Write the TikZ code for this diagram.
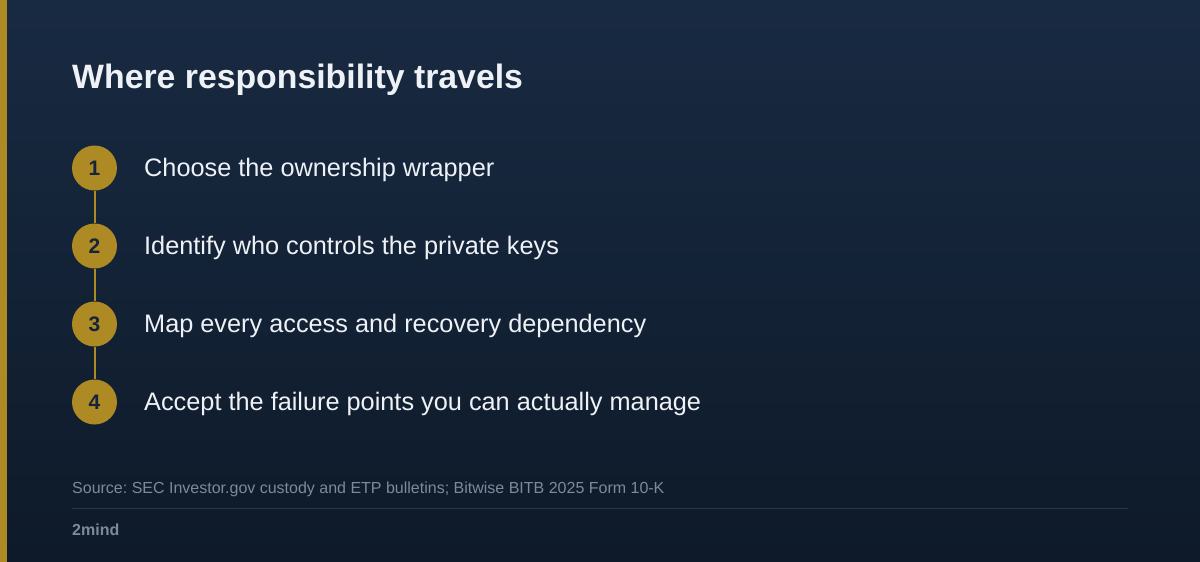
\documentclass[tikz,border=0pt]{standalone}
\usepackage{fontspec}
\setmainfont{Liberation Sans}
\frenchspacing
\definecolor{bgtop}{HTML}{182A42}
\definecolor{bgbot}{HTML}{0E1A29}
\definecolor{gold}{HTML}{AE8A24}
\definecolor{navy}{HTML}{17233A}
\definecolor{txt}{HTML}{EEF1F6}
\definecolor{muted}{HTML}{7D8A9B}
\definecolor{rule}{HTML}{263445}
\begin{document}
\begin{tikzpicture}[x=1pt,y=-1pt,
  stepnum/.style={circle,fill=gold,minimum size=45pt,inner sep=0pt,text=navy,font=\fontsize{21}{24}\selectfont\bfseries},
  steptext/.style={anchor=base west,inner sep=0pt,text=txt,font=\fontsize{25.3}{28}\selectfont},
  link/.style={draw=gold,line width=2pt}]
\shade[top color=bgtop,bottom color=bgbot] (0,0) rectangle (1200,562);
\useasboundingbox (0,0) rectangle (1200,562);
\fill[gold] (0,0) rectangle (7,562);
\node[anchor=base west,inner sep=0pt,text=txt,font=\fontsize{33.8}{38}\selectfont\bfseries] (title) at (72,88) {Where responsibility travels};
\foreach \i/\y/\t in {1/168/Choose the ownership wrapper,2/246/Identify who controls the private keys,3/324/Map every access and recovery dependency,4/402/Accept the failure points you can actually manage}{
  \node[stepnum] (n\i) at (94.5,\y) {\i};
  \node[steptext] (t\i) at (144,\y+8.5) {\t};
}
\draw[link] (n1) -- (n2);
\draw[link] (n2) -- (n3);
\draw[link] (n3) -- (n4);
\node[anchor=base west,inner sep=0pt,text=muted,font=\fontsize{16}{19}\selectfont] (src) at (72,493) {Source: SEC Investor.gov custody and ETP bulletins; Bitwise BITB 2025 Form 10-K};
\coordinate (ra) at (72,508.5);
\coordinate (rb) at (1128,508.5);
\draw[rule,line width=1pt] (ra) -- (rb);
\node[anchor=base west,inner sep=0pt,text=muted,font=\fontsize{16}{19}\selectfont\bfseries] (brand) at (72,535) {2mind};
\end{tikzpicture}
\end{document}
